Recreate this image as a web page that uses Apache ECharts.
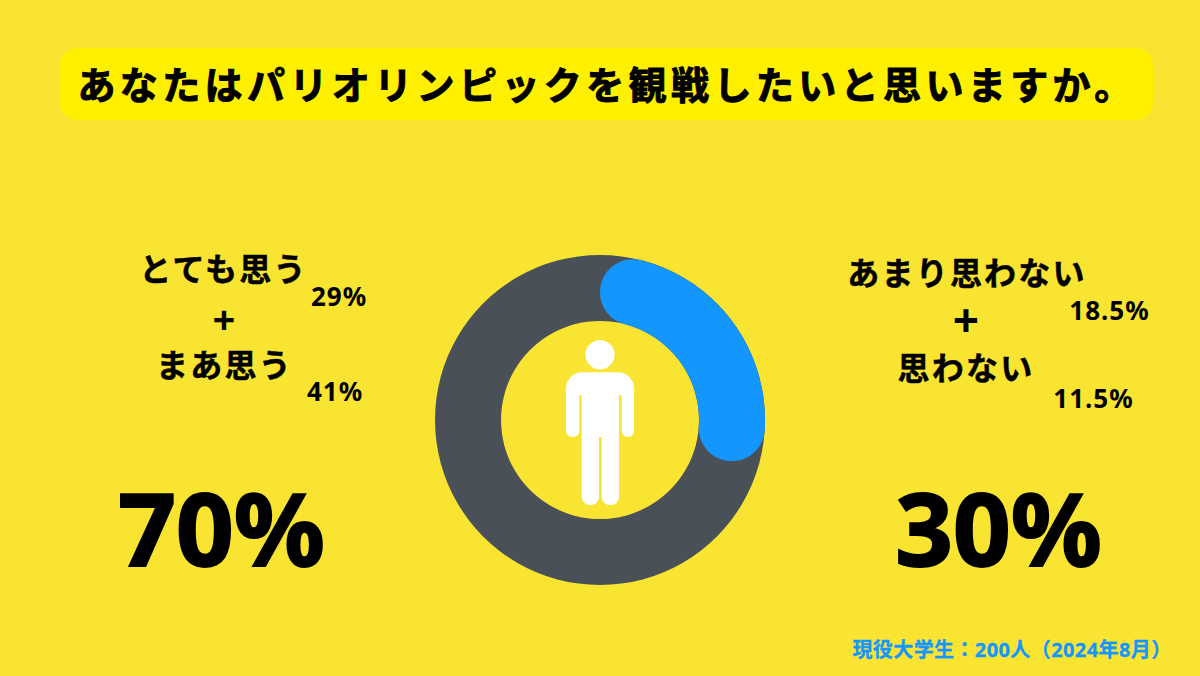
<!DOCTYPE html>
<html>
<head>
<meta charset="utf-8">
<style>
  html, body { margin: 0; padding: 0; background: #f9e431; }
  #main { width: 1200px; height: 676px; }
</style>
<script src="https://cdn.jsdelivr.net/npm/echarts@6/dist/echarts.min.js"></script>
</head>
<body>
<div id="main"></div>
<script>
const titleText = 'あなたはパリオリンピックを観戦したいと思いますか。';
const footerText = '現役大学生：200人（2024年8月）';

const segmentNames = ['そう思う', 'そう思わない'];
const segmentValues = [70, 30];

const leftLabels = ['とても思う', '+', 'まあ思う'];
const leftValues = ['29%', '41%'];
const leftTotal = '70%';
const rightLabels = ['あまり思わない', '+', '思わない'];
const rightValues = ['18.5%', '11.5%'];
const rightTotal = '30%';

const FONT = '"Noto Sans", "Noto Sans CJK JP", sans-serif';
const BG = '#f9e431';
const GRAY = '#4a5058';
const BLUE = '#1496ff';
const WHITE = '#fff';

function txt(x, y, text, size, color, bold) {
  return {
    type: 'text',
    x: x,
    y: y,
    style: {
      text: text,
      fill: color || '#000',
      stroke: color || '#000',
      lineWidth: bold || 0,
      font: '700 ' + size + 'px ' + FONT,
      align: 'center',
      verticalAlign: 'middle'
    }
  };
}

function part(x, y, w, h, r) {
  return { type: 'rect', shape: { x: x, y: y, width: w, height: h, r: r }, style: { fill: WHITE } };
}

const chart = echarts.init(document.getElementById('main'), null, { renderer: 'svg' });
chart.setOption({
  backgroundColor: BG,
  animation: false,
  series: [
    {
      type: 'pie',
      silent: true,
      center: [600, 420],
      radius: [99, 165],
      label: { show: false },
      itemStyle: { color: GRAY },
      data: [{ name: 'all', value: segmentValues[0] + segmentValues[1] }]
    },
    {
      type: 'pie',
      silent: true,
      center: [600, 420],
      radius: [99, 165],
      startAngle: 90,
      clockwise: true,
      label: { show: false },
      data: [
        { name: segmentNames[1], value: segmentValues[1], itemStyle: { color: BLUE, borderRadius: 33 } },
        { name: segmentNames[0], value: segmentValues[0], itemStyle: { color: 'transparent' } }
      ]
    }
  ],
  graphic: [
    { type: 'rect', shape: { x: 60, y: 48, width: 1093, height: 72, r: 18 }, style: { fill: '#fff000' } },
    txt(607, 84, titleText, 38, '#000', 1),
    // white figure in the hole of the ring
    { type: 'circle', shape: { cx: 600, cy: 354.7, r: 14.7 }, style: { fill: WHITE } },
    part(566, 372.3, 68, 23, [16, 16, 0, 0]),
    part(566, 395, 13.3, 42, [0, 0, 6, 6]),
    part(621.7, 395, 12.3, 42, [0, 0, 6, 6]),
    part(581.7, 395, 37.3, 42, 0),
    part(581.7, 436, 17.3, 69, [0, 0, 8, 8]),
    part(601.7, 436, 17.3, 69, [0, 0, 8, 8]),
    txt(223.5, 268, leftLabels[0], 32, '#000', 0.5),
    txt(339, 296, leftValues[0], 26),
    txt(224, 318, leftLabels[1], 40),
    txt(224.5, 364, leftLabels[2], 32, '#000', 0.5),
    txt(335, 391, leftValues[1], 26),
    txt(221.5, 527, leftTotal, 101, '#000', 2),
    txt(967, 272, rightLabels[0], 32, '#000', 0.5),
    txt(1109.5, 310, rightValues[0], 26),
    txt(966, 319, rightLabels[1], 46),
    txt(966, 367, rightLabels[2], 32, '#000', 0.5),
    txt(1093.5, 398, rightValues[1], 26),
    txt(998.5, 527, rightTotal, 101, '#000', 2),
    txt(1012, 649, footerText, 20, BLUE, 0.3)
  ]
});

// letter spacing per text size, the svg text takes it from css
const spacing = { 38: 4.4, 32: 2.2, 26: 1, 20: 0.4 };
chart.getDom().querySelectorAll('text').forEach(function (t) {
  const m = /(\d+)px/.exec(t.getAttribute('style') || '');
  if (m && spacing[m[1]]) t.style.letterSpacing = spacing[m[1]] + 'px';
});
</script>
</body>
</html>
